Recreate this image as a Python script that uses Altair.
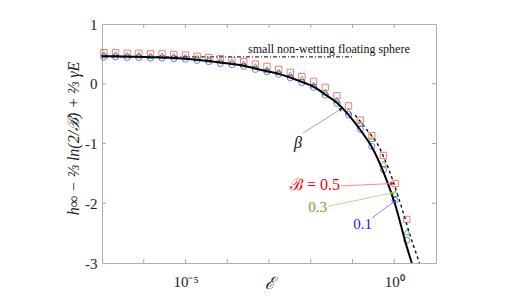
import altair as alt
import pandas as pd

# ---- data ----
eps = [1.11e-7, 2.11e-7, 4.01e-7, 7.62e-7, 1.45e-6, 2.75e-6, 5.25e-6, 9.98e-6,
       1.90e-5, 3.61e-5, 6.86e-5, 1.30e-4, 2.48e-4, 4.71e-4, 8.95e-4, 1.70e-3,
       3.24e-3, 6.15e-3, 1.17e-2, 2.22e-2, 4.23e-2, 8.04e-2, 0.153, 0.290,
       0.552, 1.05, 2.00]
red = [0.52, 0.52, 0.51, 0.51, 0.50, 0.50, 0.49, 0.48, 0.46, 0.44, 0.42, 0.39,
       0.37, 0.33, 0.29, 0.24, 0.19, 0.12, 0.04, -0.06, -0.20, -0.37, -0.61,
       -0.87, -1.20, -1.67, -2.27]
green = [0.49, 0.49, 0.48, 0.48, 0.47, 0.47, 0.46, 0.45, 0.43, 0.41, 0.39, 0.37,
         0.33, 0.29, 0.24, 0.20, 0.15, 0.08, -0.02, -0.14, -0.27, -0.46, -0.66,
         -0.92, -1.34, -1.84, -2.48]
blue = [0.45, 0.45, 0.44, 0.44, 0.43, 0.43, 0.42, 0.41, 0.39, 0.37, 0.34, 0.32,
        0.29, 0.24, 0.20, 0.16, 0.10, 0.02, -0.06, -0.19, -0.33, -0.52, -0.76,
        -1.05, -1.44, -1.95, -2.62]

beta_eps = [1.0e-7, 1.11e-7, 2.11e-7, 4.01e-7, 7.62e-7, 1.45e-6, 2.75e-6, 5.25e-6,
            9.98e-6, 1.90e-5, 3.61e-5, 6.86e-5, 1.30e-4, 2.48e-4, 4.71e-4, 8.95e-4,
            1.70e-3, 3.24e-3, 6.15e-3, 1.17e-2, 2.22e-2, 4.23e-2, 8.04e-2, 0.153,
            0.290, 0.552, 1.05, 2.00, 2.63]
beta_val = [0.46, 0.46, 0.46, 0.455, 0.45, 0.445, 0.44, 0.43, 0.42, 0.40, 0.38,
            0.355, 0.33, 0.30, 0.255, 0.21, 0.165, 0.105, 0.03, -0.05, -0.18,
            -0.32, -0.52, -0.77, -1.06, -1.48, -2.02, -2.73, -3.0]

large_eps = [0.115, 0.222, 0.386, 0.600, 0.883, 1.23, 1.71, 2.38, 3.14, 4.03]
large_val = [-0.523, -0.774, -0.992, -1.276, -1.577, -1.879, -2.197, -2.531, -2.782, -3.0]

small_eps = [1.0e-7, 0.098]
small_val = [0.45, 0.45]

x_ticks = [1e-7, 1e-6, 1e-5, 1e-4, 1e-3, 1e-2, 1e-1, 1e0, 1e1]
y_ticks = [-3, -2, -1, 0, 1]

W, H = 334, 239
SERIF = "Liberation Serif"

xscale = alt.Scale(type="log", domain=[1e-7, 10])
yscale = alt.Scale(domain=[-3, 1])

xaxis = alt.Axis(values=x_ticks, ticks=False, domain=False, grid=False,
                 labelExpr="abs(log(datum.value)/LN10) < 0.01 ? '10⁰' : (abs(log(datum.value)/LN10 + 5) < 0.01 ? '10⁻⁵' : '')",
                 labelFont=SERIF, labelFontSize=15, labelColor="#222",
                 labelPadding=11, labelOverlap=False, labelFlush=False,
                 title="ℰ", titleFont=SERIF, titleFontSize=17, titleFontWeight="normal",
                 titleFontStyle="italic", titleColor="#222", titleY=20, titleBaseline="middle")
yaxis = alt.Axis(values=y_ticks, ticks=False, domain=False, grid=False,
                 labelExpr="datum.value + ''",
                 labelFont=SERIF, labelFontSize=15, labelColor="#222", labelPadding=5,
                 title="h∞ − ⅔ ln(2/ℬ) + ⅔ γE", titleFont=SERIF, titleFontSize=16,
                 titleFontWeight="normal", titleFontStyle="italic", titleColor="#222",
                 titleX=-29, titleY=114, titleBaseline="middle", titleAlign="center")

mk = pd.DataFrame({"eps": eps, "red": red, "green": green, "blue": blue})
beta_df = pd.DataFrame({"eps": beta_eps, "v": beta_val})
large_df = pd.DataFrame({"eps": large_eps, "v": large_val})
small_df = pd.DataFrame({"eps": small_eps, "v": small_val})

def X(field="eps"):
    return alt.X(f"{field}:Q", scale=xscale, axis=xaxis)

def Y(field):
    return alt.Y(f"{field}:Q", scale=yscale, axis=yaxis)

small_line = alt.Chart(small_df).mark_line(color="#333", strokeWidth=1.1,
                                           strokeDash=[4, 2, 1, 2]).encode(x=X(), y=Y("v"))
large_line = alt.Chart(large_df).mark_line(color="black", strokeWidth=1.3, strokeDash=[3, 3],
                                           interpolate="monotone", clip=True).encode(x=X(), y=Y("v"))
beta_line = alt.Chart(beta_df).mark_line(color="black", strokeWidth=2,
                                         interpolate="monotone", clip=True).encode(x=X(), y=Y("v"))

pts_red = alt.Chart(mk).mark_point(shape="square", filled=False, color="#ff2a2a",
                                   size=40, strokeWidth=0.9).encode(x=X(), y=Y("red"))
pts_green = alt.Chart(mk).mark_point(shape="triangle-up", filled=False, color="#1c9c1c",
                                     size=42, strokeWidth=1).encode(x=X(), y=Y("green"))
pts_blue = alt.Chart(mk).mark_point(shape="circle", filled=False, color="#2a2aff",
                                    size=38, strokeWidth=0.9).encode(x=X(), y=Y("blue"))

# inward tick marks on all four sides
xt = pd.DataFrame({"eps": x_ticks[1:-1]})
yt = pd.DataFrame({"v": y_ticks[1:-1]})
tick_style = dict(color="#a8a8a8", strokeWidth=1)
xt_bot = alt.Chart(xt).mark_rule(**tick_style).encode(x=X(), y=alt.value(H), y2=alt.value(H - 4))
xt_top = alt.Chart(xt).mark_rule(**tick_style).encode(x=X(), y=alt.value(0), y2=alt.value(4))
yt_left = alt.Chart(yt).mark_rule(**tick_style).encode(y=Y("v"), x=alt.value(0), x2=alt.value(4))
yt_right = alt.Chart(yt).mark_rule(**tick_style).encode(y=Y("v"), x=alt.value(W), x2=alt.value(W - 4))

# annotations
label_eps = [3.16e-4, 4.95e-3, 0.050, 0.0245, 0.293]
label_y = [0.58, -0.99, -1.695, -2.06, -2.35]
label_txt = ["small non-wetting floating sphere", "β", "ℬ = 0.5", "0.3", "0.1"]
label_col = ["#111111", "#111111", "#ff0000", "#6aa52a", "#1a1aff"]
label_align = ["left", "center", "right", "right", "right"]
label_size = [12, 16, 16, 15, 15]
label_style = ["normal", "italic", "normal", "normal", "normal"]

texts = []
for e, yv, t, c, a, s, st in zip(label_eps, label_y, label_txt, label_col, label_align, label_size, label_style):
    d = pd.DataFrame({"eps": [e], "v": [yv], "t": [t]})
    texts.append(alt.Chart(d).mark_text(color=c, align=a, baseline="middle", font=SERIF,
                                        fontSize=s, fontStyle=st).encode(x=X(), y=Y("v"), text="t:N"))

arr_x1 = [6.53e-3, 0.053, 0.0259, 0.293]
arr_y1 = [-0.825, -1.71, -2.05, -2.247]
arr_x2 = [0.053, 0.883, 0.883, 1.04]
arr_y2 = [-0.423, -1.67, -1.829, -1.962]
arr_line_col = ["#9a9a9a", "#ff8080", "#a8d890", "#7a7aff"]
arr_head_col = ["#222222", "#ff0000", "#6aa52a", "#1a1aff"]
arr_angle = [328, 357, 348, 324]

arrows = []
for x1, y1, x2, y2, lc, hc, ang in zip(arr_x1, arr_y1, arr_x2, arr_y2, arr_line_col, arr_head_col, arr_angle):
    d = pd.DataFrame({"x1": [x1], "y1": [y1], "x2": [x2], "y2": [y2]})
    arrows.append(alt.Chart(d).mark_rule(color=lc, strokeWidth=0.9).encode(
        x=X("x1"), y=Y("y1"), x2="x2:Q", y2="y2:Q"))
    arrows.append(alt.Chart(d).mark_point(shape="triangle-right", filled=True, color=hc,
                                          size=16, opacity=1, angle=ang).encode(x=X("x2"), y=Y("y2")))

chart = alt.layer(small_line, large_line, pts_red, pts_green, pts_blue, beta_line,
                  xt_bot, xt_top, yt_left, yt_right, *arrows, *texts).properties(
    width=W, height=H,
    autosize=alt.AutoSizeParams(type="none"),
    padding={"left": 94, "top": 16, "right": 70, "bottom": 34},
    background="white",
).configure_view(stroke="#b0b0b0", strokeWidth=1)

chart.save("out.html", embed_options={"renderer": "svg", "actions": False})
